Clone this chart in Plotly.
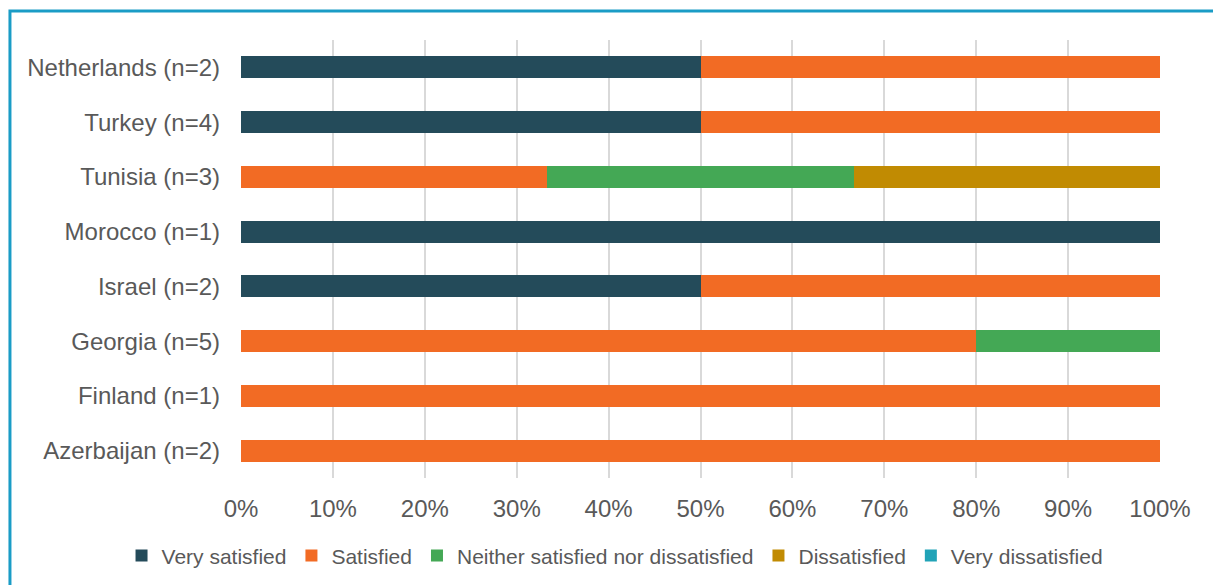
import plotly.graph_objects as go

countries = ["Netherlands (n=2)", "Turkey (n=4)", "Tunisia (n=3)", "Morocco (n=1)",
             "Israel (n=2)", "Georgia (n=5)", "Finland (n=1)", "Azerbaijan (n=2)"]
very_satisfied = [0.50, 0.50, 0.0, 1.00, 0.50, 0.0, 0.0, 0.0]
satisfied = [0.50, 0.50, 1/3, 0.0, 0.50, 0.80, 1.00, 1.00]
neither = [0.0, 0.0, 1/3, 0.0, 0.0, 0.20, 0.0, 0.0]
dissatisfied = [0.0, 0.0, 1/3, 0.0, 0.0, 0.0, 0.0, 0.0]
very_dissatisfied = [0.0, 0.0, 0.0, 0.0, 0.0, 0.0, 0.0, 0.0]

series = [
    ("Very satisfied", very_satisfied, "#244B5A"),
    ("Satisfied", satisfied, "#F26B24"),
    ("Neither satisfied nor dissatisfied", neither, "#44A855"),
    ("Dissatisfied", dissatisfied, "#C18B02"),
    ("Very dissatisfied", very_dissatisfied, "#21A3B7"),
]

fig = go.Figure()
for name, vals, color in series:
    fig.add_trace(go.Bar(
        y=countries, x=vals, name=name, orientation="h",
        marker=dict(color=color, line=dict(width=0)),
    ))

font_family = "Liberation Sans, Arial, sans-serif"
fig.update_layout(
    barmode="stack",
    bargap=0.6,
    width=1213, height=577,
    margin=dict(l=233, r=61, t=32, b=107, autoexpand=False),
    paper_bgcolor="white", plot_bgcolor="white",
    font=dict(family=font_family, color="#595959", size=24),
    xaxis=dict(range=[0, 1], tickformat=".0%", dtick=0.1, showgrid=True,
               gridcolor="#D9D9D9", gridwidth=2, zeroline=False,
               showline=False, ticks="", ticklabelstandoff=14,
               tickfont=dict(size=24, color="#595959")),
    yaxis=dict(categoryorder="array", categoryarray=countries[::-1],
               showgrid=False, showline=False, ticks="", ticklabelstandoff=20,
               tickfont=dict(size=24, color="#595959")),
    legend=dict(orientation="h", x=-0.13, xanchor="left", y=-0.178, yanchor="middle",
                font=dict(size=21, color="#595959"), itemwidth=30,
                traceorder="normal", bgcolor="rgba(0,0,0,0)"),
    showlegend=True,
)
fig.add_shape(type="rect", xref="paper", yref="paper",
              x0=-0.2514, x1=1.0642, y0=-0.4, y1=1.066,
              line=dict(color="#1A9CC6", width=3), fillcolor="rgba(0,0,0,0)", layer="above")

fig.write_html("out.html")
